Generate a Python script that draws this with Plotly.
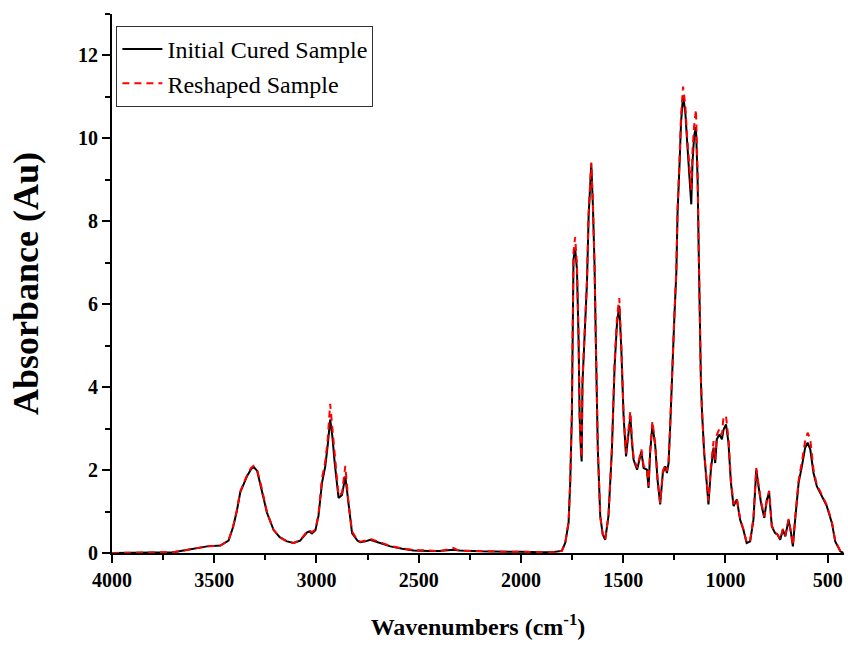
import plotly.graph_objects as go

wavenumbers = [
    4000, 3900, 3800, 3700, 3650, 3600, 3535, 3470, 3430, 3407,
    3390, 3373, 3340, 3320, 3308, 3290, 3267, 3242, 3210, 3180,
    3144, 3112, 3080, 3046, 3035, 3022, 3005, 2990, 2973, 2957,
    2945, 2933, 2922, 2911, 2892, 2875, 2859, 2843, 2826, 2800,
    2786, 2760, 2737, 2700, 2639, 2580, 2525, 2450, 2400, 2330,
    2300, 2200, 2100, 2000, 1900, 1850, 1800, 1783, 1767, 1759,
    1751, 1748, 1743, 1735, 1726, 1718, 1713, 1707, 1703, 1699,
    1686, 1677, 1669, 1661, 1656, 1648, 1640, 1633, 1624, 1612,
    1600, 1588, 1572, 1555, 1542, 1530, 1519, 1509, 1498, 1486,
    1477, 1465, 1457, 1449, 1432, 1420, 1411, 1400, 1384, 1376,
    1368, 1357, 1343, 1332, 1319, 1306, 1294, 1286, 1278, 1270,
    1262, 1250, 1240, 1234, 1224, 1217, 1207, 1196, 1188, 1180,
    1172, 1167, 1161, 1153, 1144, 1136, 1131, 1127, 1120, 1115,
    1104, 1090, 1083, 1071, 1058, 1050, 1042, 1029, 1017, 1009,
    997, 985, 973, 960, 944, 928, 912, 896, 879, 863,
    849, 838, 826, 810, 797, 786, 773, 757, 745, 732,
    719, 707, 691, 679, 670, 659, 642, 626, 610, 598,
    585, 569, 553, 520, 504, 479, 463, 438, 423,
]

initial_cured = [
    0.00, 0.01, 0.01, 0.02, 0.06, 0.11, 0.16, 0.18, 0.30, 0.64,
    1.00, 1.46, 1.85, 2.02, 2.08, 1.98, 1.53, 0.97, 0.56, 0.38,
    0.28, 0.24, 0.30, 0.50, 0.52, 0.47, 0.55, 0.90, 1.69, 2.09,
    2.60, 3.22, 2.80, 2.18, 1.33, 1.40, 1.85, 1.13, 0.48, 0.30,
    0.26, 0.28, 0.32, 0.26, 0.16, 0.10, 0.06, 0.05, 0.05, 0.08,
    0.06, 0.04, 0.04, 0.03, 0.02, 0.02, 0.05, 0.25, 0.73, 1.70,
    3.30, 5.70, 7.08, 7.35, 6.84, 5.10, 3.30, 2.50, 2.21, 4.10,
    5.40, 6.52, 8.13, 9.10, 9.38, 8.37, 6.92, 4.91, 2.50, 0.88,
    0.45, 0.32, 0.88, 2.50, 4.50, 5.56, 5.96, 4.91, 3.30, 2.33,
    2.74, 3.30, 2.66, 2.25, 2.01, 2.30, 2.45, 2.05, 2.01, 1.57,
    2.42, 3.10, 2.58, 1.77, 1.17, 1.93, 2.09, 1.93, 2.17, 3.06,
    4.19, 5.64, 6.76, 8.21, 9.42, 10.39, 11.03, 10.63, 9.98, 9.34,
    8.78, 8.41, 9.42, 10.06, 10.27, 9.02, 7.41, 5.80, 4.19, 3.46,
    2.42, 1.61, 1.17, 2.01, 2.54, 2.17, 2.74, 2.86, 2.74, 2.98,
    3.10, 2.66, 1.69, 1.13, 1.29, 0.80, 0.56, 0.24, 0.28, 0.80,
    2.01, 1.61, 1.21, 0.85, 1.29, 1.45, 0.64, 0.48, 0.44, 0.32,
    0.56, 0.40, 0.80, 0.48, 0.16, 0.80, 1.69, 2.09, 2.54, 2.66,
    2.50, 1.93, 1.61, 1.29, 1.13, 0.72, 0.28, 0.04, 0.00,
]

reshaped = [
    0.00, 0.01, 0.02, 0.02, 0.06, 0.11, 0.16, 0.18, 0.30, 0.66,
    1.02, 1.48, 1.87, 2.05, 2.10, 2.00, 1.55, 0.98, 0.56, 0.38,
    0.28, 0.24, 0.31, 0.52, 0.55, 0.50, 0.57, 0.95, 1.80, 2.20,
    2.75, 3.60, 3.00, 2.30, 1.38, 1.45, 2.10, 1.20, 0.52, 0.31,
    0.27, 0.30, 0.34, 0.28, 0.17, 0.11, 0.07, 0.06, 0.04, 0.12,
    0.05, 0.05, 0.03, 0.03, 0.02, 0.01, 0.05, 0.25, 0.75, 1.75,
    3.40, 5.85, 7.25, 7.62, 6.95, 5.20, 3.35, 2.55, 2.30, 4.15,
    5.45, 6.60, 8.20, 9.15, 9.42, 8.40, 6.95, 4.95, 2.52, 0.88,
    0.45, 0.32, 0.90, 2.55, 4.60, 5.70, 6.15, 5.00, 3.35, 2.40,
    2.80, 3.42, 2.75, 2.30, 2.05, 2.35, 2.50, 2.10, 2.05, 1.62,
    2.50, 3.18, 2.62, 1.80, 1.20, 1.98, 2.12, 1.98, 2.20, 3.10,
    4.25, 5.70, 6.85, 8.30, 9.55, 10.55, 11.25, 10.80, 10.10, 9.50,
    8.90, 8.75, 9.70, 10.30, 10.70, 9.20, 7.50, 5.85, 4.25, 3.50,
    2.45, 1.65, 1.25, 2.10, 2.70, 2.25, 2.85, 3.00, 2.85, 3.30,
    3.30, 2.75, 1.75, 1.18, 1.32, 0.82, 0.58, 0.25, 0.30, 0.85,
    2.05, 1.65, 1.25, 0.88, 1.30, 1.50, 0.66, 0.50, 0.45, 0.33,
    0.58, 0.42, 0.82, 0.50, 0.18, 0.85, 1.75, 2.20, 2.70, 2.90,
    2.75, 2.00, 1.65, 1.32, 1.15, 0.75, 0.30, 0.05, 0.00,
]

x_ticks = [4000, 3500, 3000, 2500, 2000, 1500, 1000, 500]
y_ticks = [0, 2, 4, 6, 8, 10, 12]

FONT = "Liberation Serif"

fig = go.Figure()
fig.add_trace(go.Scatter(
    x=wavenumbers, y=initial_cured, mode="lines", name="Initial Cured Sample",
    line=dict(color="black", width=2),
))
fig.add_trace(go.Scatter(
    x=wavenumbers, y=reshaped, mode="lines", name="Reshaped Sample",
    line=dict(color="#ff0000", width=2, dash="7px,5px"),
))

axis_common = dict(
    showline=True, linewidth=2, linecolor="black", mirror=False,
    ticks="outside", ticklen=8, tickwidth=2, tickcolor="black",
    showgrid=False, zeroline=False,
    tickfont=dict(family=FONT, size=20, color="black", weight="bold"),
)

fig.update_xaxes(
    range=[4000, 420], tickvals=x_ticks, ticktext=[str(v) for v in x_ticks],
    minor=dict(ticks="outside", ticklen=5, tickwidth=2, tickcolor="black", dtick=250, tick0=0),
    title=dict(text="Wavenumbers (cm<sup>-1</sup>)",
               font=dict(family=FONT, size=24, color="black", weight="bold"), standoff=28),
    **axis_common,
)
fig.update_yaxes(
    range=[0, 13], tickvals=y_ticks, ticktext=[str(v) for v in y_ticks],
    minor=dict(ticks="outside", ticklen=5, tickwidth=2, tickcolor="black", dtick=1, tick0=0),
    title=dict(text="Absorbance (Au)",
               font=dict(family=FONT, size=36, color="black", weight="bold"), standoff=28),
    **axis_common,
)

fig.update_layout(
    width=848, height=646,
    margin=dict(l=112, r=4, t=14, b=93),
    paper_bgcolor="white", plot_bgcolor="white",
    showlegend=True,
    legend=dict(
        x=0.006, y=0.978, xanchor="left", yanchor="top",
        bordercolor="#333333", borderwidth=1, bgcolor="white",
        font=dict(family=FONT, size=24, color="black"),
        tracegroupgap=0, itemwidth=40,
    ),
)

fig.write_html("out.html")
